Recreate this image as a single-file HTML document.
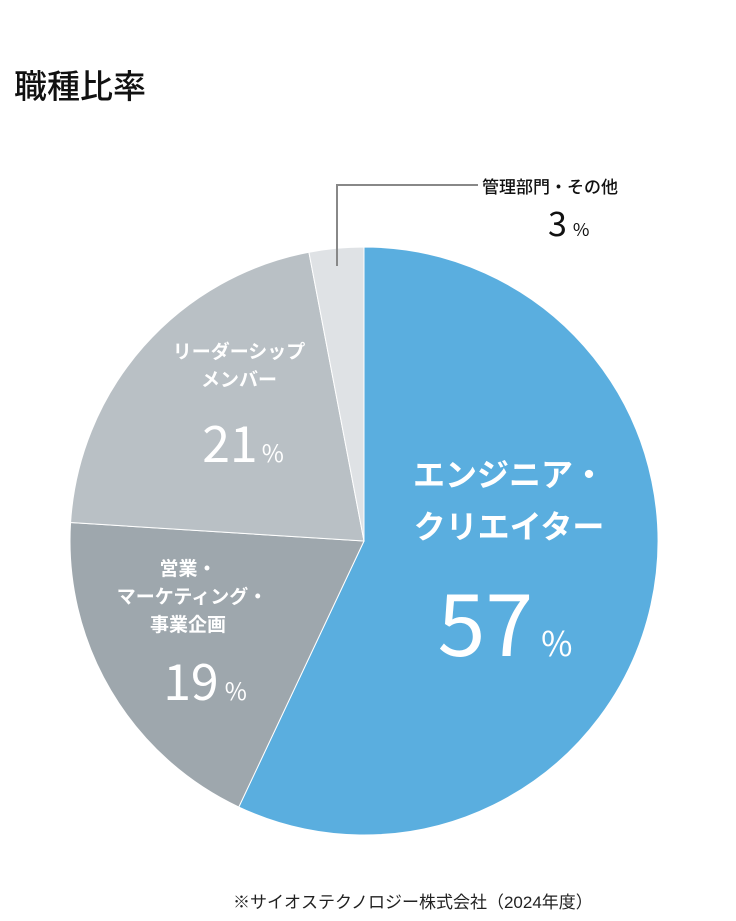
<!DOCTYPE html>
<html><head><meta charset="utf-8"><style>
body{margin:0;background:#fff;width:736px;height:916px;overflow:hidden;font-family:"Liberation Sans","Noto Sans CJK JP",sans-serif;}
.num{font-family:"Noto Sans CJK JP",sans-serif;}
</style></head><body>
<svg width="736" height="916" font-family="Liberation Sans, Noto Sans CJK JP, sans-serif">
<text x="14" y="98" font-size="33" font-weight="500" fill="#111">職種比率</text>
<g id="slices"></g>
<polyline points="337,266 337,185 478,185" fill="none" stroke="#888" stroke-width="2"/>
<text x="482" y="193" font-size="17" fill="#111" font-weight="500">管理部門・その他</text>
<text class="num" x="548" y="236" font-size="34" fill="#111">3<tspan font-size="18" dx="6">%</tspan></text>
<g fill="#fff" font-weight="bold" text-anchor="middle">
<text x="509" y="486" font-size="32">エンジニア・</text>
<text x="509" y="538" font-size="32">クリエイター</text>
<text class="num" x="505" y="656" font-size="86" font-weight="normal">57<tspan font-size="34" dx="8">%</tspan></text>
<text x="239" y="358" font-size="19">リーダーシップ</text>
<text x="239" y="386" font-size="19">メンバー</text>
<text class="num" x="243" y="462" font-size="50" font-weight="normal">21<tspan font-size="24" dx="4">%</tspan></text>
<text x="188" y="575" font-size="19">営業・</text>
<text x="192" y="603" font-size="19">マーケティング・</text>
<text x="188" y="631" font-size="19">事業企画</text>
<text class="num" x="205" y="700" font-size="50" font-weight="normal">19<tspan font-size="24" dx="6">%</tspan></text>
</g>
<text x="233" y="908" font-size="17" fill="#222">※サイオステクノロジー株式会社（2024年度）</text>
</svg>
<script>
const categories=["エンジニア・クリエイター","営業・マーケティング・事業企画","リーダーシップメンバー","管理部門・その他"];
const values=[57,19,21,3];
const colors=["#5aaedf","#9ea7ad","#b9c0c5","#dfe2e5"];
const cx=364,cy=541,r=294;
const g=document.getElementById('slices');
const total=values.reduce((a,b)=>a+b,0);
let acc=0;
function pt(f){const a=f*2*Math.PI;return [cx+r*Math.sin(a),cy-r*Math.cos(a)];}
values.forEach((v,i)=>{
  const s=pt(acc/total);acc+=v;const e=pt(acc/total);
  const large=v/total>0.5?1:0;
  const p=document.createElementNS("http://www.w3.org/2000/svg","path");
  p.setAttribute('d',`M${cx},${cy}L${s[0]},${s[1]}A${r},${r} 0 ${large} 1 ${e[0]},${e[1]}Z`);
  p.setAttribute('fill',colors[i]);
  p.setAttribute('stroke','#fff');p.setAttribute('stroke-width','1');
  
  
  g.appendChild(p);
});
</script>
</body></html>
